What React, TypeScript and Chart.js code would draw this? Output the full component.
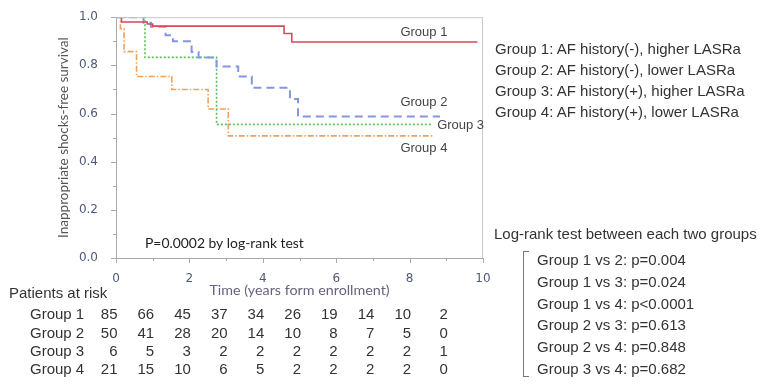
import React, { useEffect, useRef } from "react";
import { Chart, registerables } from "chart.js";

Chart.register(...registerables);

// ---- Data ----
const groupNames = ["Group 1", "Group 2", "Group 3", "Group 4"];
const g1Time = [0, 0.15, 0.85, 1.0, 4.58, 4.79, 9.85];
const g1Surv = [1.0, 0.98, 0.972, 0.963, 0.932, 0.897, 0.897];
const g2Time = [0, 0.75, 0.95, 1.35, 1.55, 2.06, 2.25, 2.74, 3.33, 3.7, 4.74, 4.96, 8.83];
const g2Surv = [1.0, 0.977, 0.96, 0.925, 0.9, 0.856, 0.833, 0.795, 0.754, 0.707, 0.66, 0.588, 0.588];
const g3Time = [0, 0.79, 2.74, 8.58];
const g3Surv = [1.0, 0.833, 0.555, 0.555];
const g4Time = [0, 0.12, 0.22, 0.56, 1.52, 2.51, 3.06, 8.64];
const g4Surv = [1.0, 0.952, 0.857, 0.754, 0.7, 0.619, 0.507, 0.507];

const riskYears = [0, 1, 2, 3, 4, 5, 6, 7, 8, 9];
const riskG1 = [85, 66, 45, 37, 34, 26, 19, 14, 10, 2];
const riskG2 = [50, 41, 28, 20, 14, 10, 8, 7, 5, 0];
const riskG3 = [6, 5, 3, 2, 2, 2, 2, 2, 2, 1];
const riskG4 = [21, 15, 10, 6, 5, 2, 2, 2, 2, 0];

const legendLines = [
  "Group 1: AF history(-), higher LASRa",
  "Group 2: AF history(-), lower LASRa",
  "Group 3: AF history(+), higher LASRa",
  "Group 4: AF history(+), lower LASRa",
];
const logRankTitle = "Log-rank test between each two groups";
const logRankLines = [
  "Group 1 vs 2: p=0.004",
  "Group 1 vs 3: p=0.024",
  "Group 1 vs 4: p<0.0001",
  "Group 2 vs 3: p=0.613",
  "Group 2 vs 4: p=0.848",
  "Group 3 vs 4: p=0.682",
];
const pText = "P=0.0002 by log-rank test";
const xTitle = "Time (years form enrollment)";
const yTitle = "Inappropriate shocks-free survival";
const riskTitle = "Patients at risk";

const ARIAL = '"Liberation Sans", Arial, sans-serif';

export default function App() {
  const ref = useRef<HTMLCanvasElement | null>(null);

  useEffect(() => {
    const canvas = ref.current;
    if (!canvas) return;
    const mk = (t: number[], s: number[]) => t.map((x, i) => ({ x, y: s[i] }));

    const decor = {
      id: "decor",
      afterDraw(chart: any) {
        const ctx = chart.ctx;
        const xs = chart.scales.x;
        const ys = chart.scales.y;
        const a = chart.chartArea;
        ctx.save();
        // frame
        ctx.strokeStyle = "#c9c9c9";
        ctx.lineWidth = 1;
        ctx.strokeRect(a.left + 0.5, a.top + 0.5, a.right - a.left - 1, a.bottom - a.top);
        ctx.strokeStyle = "#a9a9a9";
        ctx.beginPath();
        ctx.moveTo(a.left + 0.5, a.top);
        ctx.lineTo(a.left + 0.5, a.bottom + 0.5);
        ctx.lineTo(a.right, a.bottom + 0.5);
        ctx.stroke();
        // ticks
        ctx.beginPath();
        for (let i = 0; i <= 10; i++) {
          const px = Math.round(xs.getPixelForValue(i)) + 0.5;
          const len = i % 2 === 0 ? 5 : 3;
          ctx.moveTo(px, a.bottom);
          ctx.lineTo(px, a.bottom + len);
        }
        for (let i = 0; i <= 10; i++) {
          const py = Math.round(ys.getPixelForValue(i / 10)) + 0.5;
          const len = i % 2 === 0 ? 5 : 3;
          ctx.moveTo(a.left, py);
          ctx.lineTo(a.left - len, py);
        }
        ctx.stroke();

        // axis titles
        ctx.fillStyle = "#555";
        ctx.font = '13.5px Lato, "Open Sans", sans-serif';
        ctx.textAlign = "center";
        ctx.textBaseline = "middle";
        ctx.save();
        ctx.translate(64, (a.top + a.bottom) / 2);
        ctx.rotate(-Math.PI / 2);
        ctx.fillText(yTitle, 0, 0);
        ctx.restore();
        ctx.fillStyle = "#6a5f7c";
        ctx.font = '14.3px Lato, "Open Sans", sans-serif';
        ctx.fillText(xTitle, (a.left + a.right) / 2, 290);

        // P text
        ctx.fillStyle = "#222";
        ctx.font = '13.9px Lato, "Open Sans", sans-serif';
        ctx.textAlign = "left";
        ctx.fillText(pText, 145, 244);

        // group labels in plot
        ctx.fillStyle = "#444";
        ctx.font = `13px ${ARIAL}`;
        const labelPos = [
          [7.75, 0.935],
          [7.75, 0.645],
          [8.75, 0.55],
          [7.75, 0.455],
        ];
        groupNames.forEach((g, i) => {
          ctx.fillText(g, xs.getPixelForValue(labelPos[i][0]), ys.getPixelForValue(labelPos[i][1]));
        });

        // risk table
        ctx.fillStyle = "#333";
        ctx.font = `15px ${ARIAL}`;
        ctx.fillText(riskTitle, 9, 294);
        const rows = [riskG1, riskG2, riskG3, riskG4];
        rows.forEach((row, r) => {
          const y = 315 + r * 18.4;
          ctx.textAlign = "left";
          ctx.fillText(groupNames[r], 30, y);
          ctx.textAlign = "right";
          row.forEach((v, c) => {
            ctx.fillText(String(v), xs.getPixelForValue(riskYears[c]) + 1.5, y);
          });
        });
        ctx.restore();
      },
    };

    const chart = new Chart(canvas, {
      type: "line",
      data: {
        datasets: [
          { label: groupNames[0], data: mk(g1Time, g1Surv), borderColor: "#d9485c", borderWidth: 1.6, stepped: true, pointRadius: 0, fill: false },
          { label: groupNames[1], data: mk(g2Time, g2Surv), borderColor: "#8595e0", borderWidth: 2, borderDash: [8, 5], stepped: true, pointRadius: 0, fill: false },
          { label: groupNames[2], data: mk(g3Time, g3Surv), borderColor: "#5cbf5c", borderWidth: 1.6, borderDash: [2, 2], stepped: true, pointRadius: 0, fill: false },
          { label: groupNames[3], data: mk(g4Time, g4Surv), borderColor: "#f0a05a", borderWidth: 1.6, borderDash: [6, 2, 1.5, 2], stepped: true, pointRadius: 0, fill: false },
        ],
      },
      options: {
        animation: false,
        responsive: false,
        devicePixelRatio: 1,
        layout: { padding: { left: 0, right: 285, top: 11, bottom: 0 } },
        plugins: { legend: { display: false }, tooltip: { enabled: false } },
        scales: {
          x: {
            type: "linear",
            min: 0,
            max: 10,
            grid: { display: false },
            border: { display: false },
            ticks: {
              stepSize: 1,
              autoSkip: false,
              maxRotation: 0,
              padding: 6,
              color: "#4f5a78",
              font: { family: '"DejaVu Sans", sans-serif', size: 12 },
              callback: (v: any) => (Math.round(v) % 2 === 0 ? String(Math.round(v)) : ""),
            },
            afterFit: (s: any) => {
              s.height = 128;
            },
          },
          y: {
            min: 0,
            max: 1,
            grid: { display: false },
            border: { display: false },
            ticks: {
              stepSize: 0.1,
              autoSkip: false,
              padding: 10,
              color: "#4f5a78",
              font: { family: '"DejaVu Sans", sans-serif', size: 12 },
              callback: (v: any) => (Math.round(v * 10) % 2 === 0 ? Number(v).toFixed(1) : ""),
            },
            afterFit: (s: any) => {
              s.width = 116;
            },
          },
        },
      },
      plugins: [decor],
    } as any);
    return () => chart.destroy();
  }, []);

  const textStyle: React.CSSProperties = {
    position: "absolute",
    fontFamily: ARIAL,
    fontSize: 15,
    color: "#333",
    whiteSpace: "nowrap",
  };

  return (
    <div style={{ position: "absolute", left: 0, top: 0, width: 768, height: 386, background: "#fff", overflow: "hidden" }}>
      <canvas ref={ref} width={768} height={386} style={{ position: "absolute", left: 0, top: 0, width: 768, height: 386 }} />
      <div style={{ ...textStyle, left: 495, top: 37.5, lineHeight: "21px" }}>
        {legendLines.map((l) => (
          <div key={l}>{l}</div>
        ))}
      </div>
      <div style={{ ...textStyle, left: 494, top: 222.5, lineHeight: "21px" }}>{logRankTitle}</div>
      <div
        style={{
          position: "absolute",
          left: 523,
          top: 251,
          width: 5,
          height: 124,
          borderLeft: "1.5px solid #777",
          borderTop: "1.5px solid #777",
          borderBottom: "1.5px solid #777",
        }}
      />
      <div style={{ ...textStyle, left: 537, top: 249, lineHeight: "21.8px" }}>
        {logRankLines.map((l) => (
          <div key={l}>{l}</div>
        ))}
      </div>
    </div>
  );
}
